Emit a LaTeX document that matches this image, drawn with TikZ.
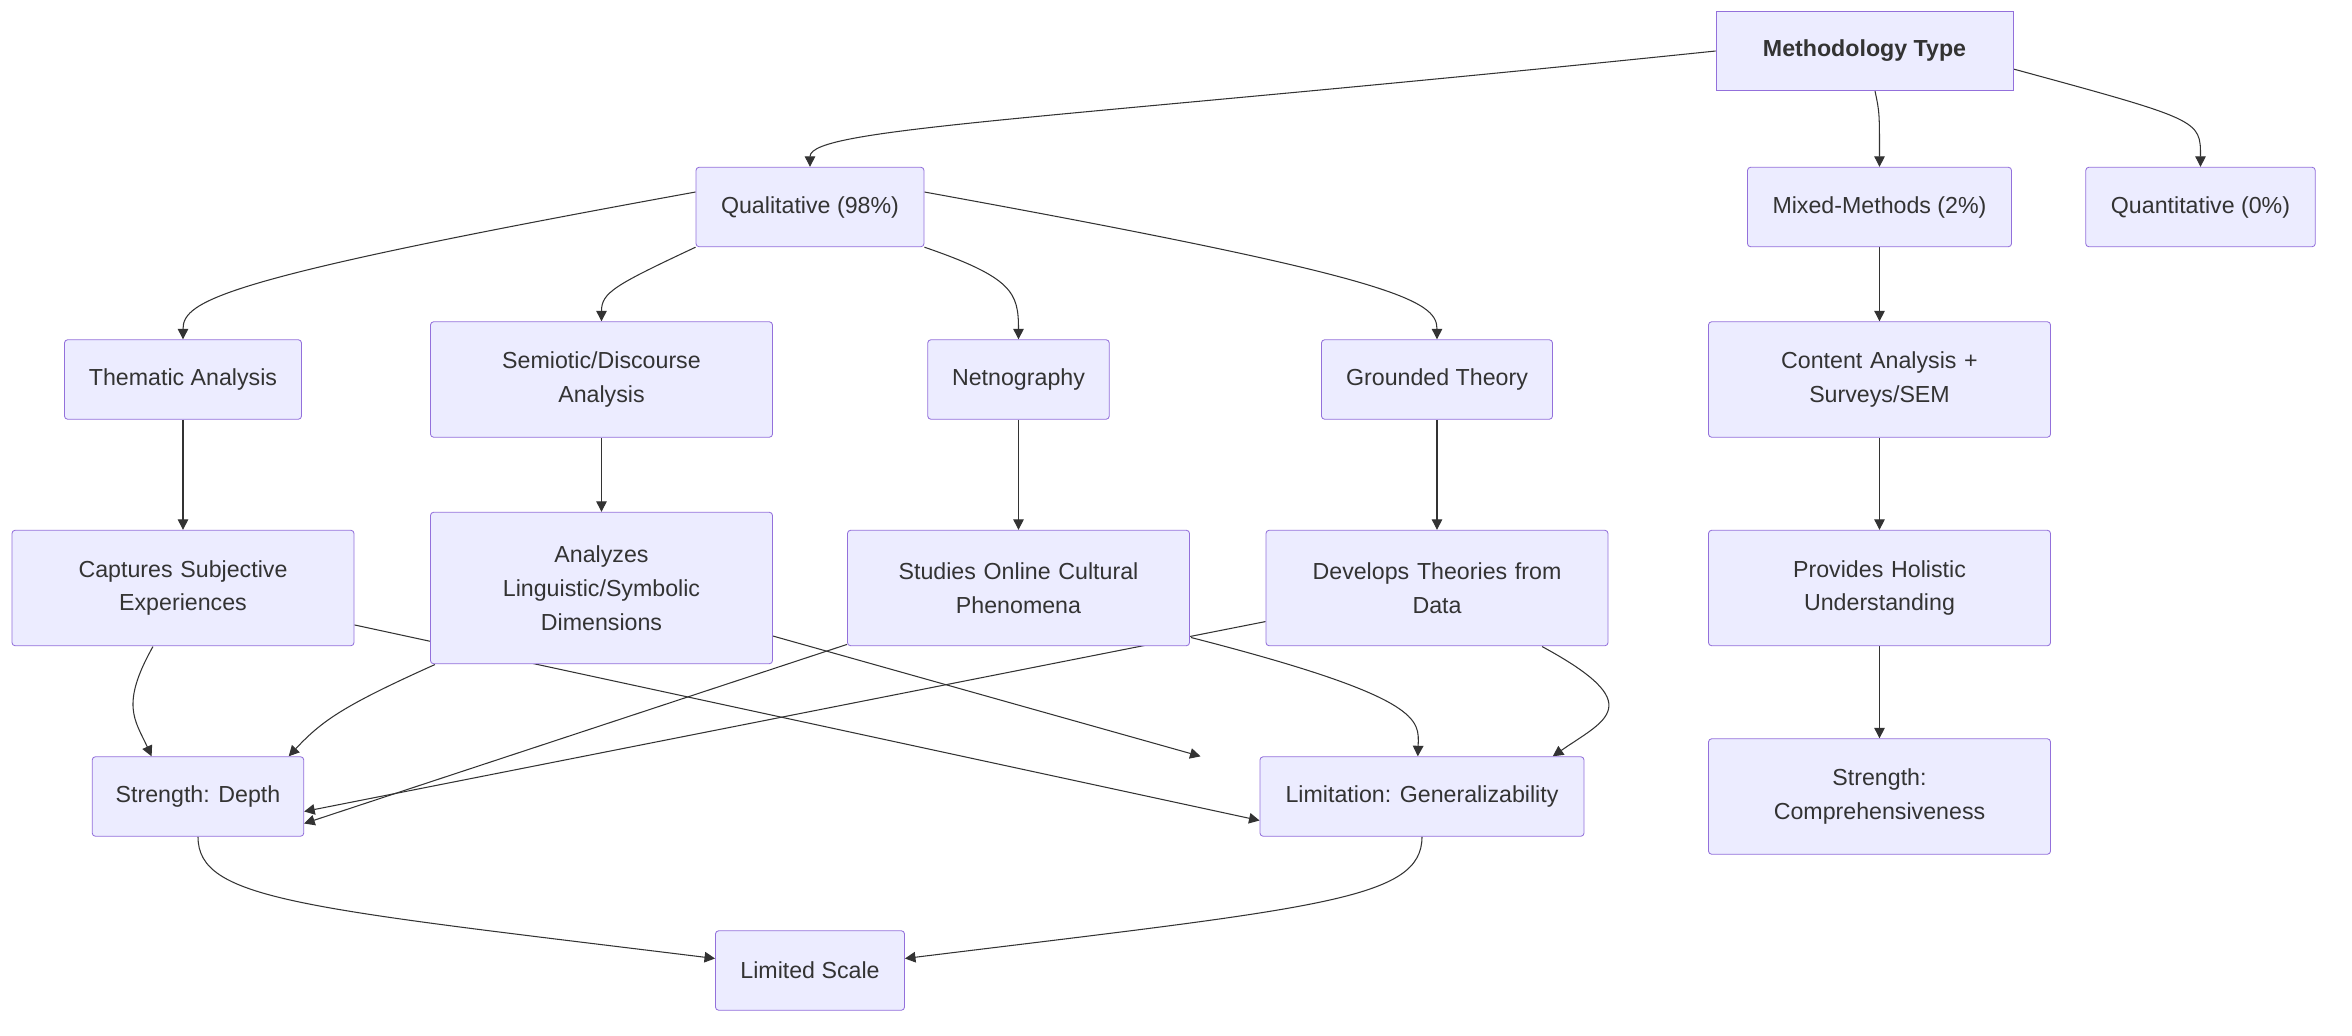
\documentclass[tikz,border=0pt]{standalone}
\usepackage{fontspec}
\setmainfont{Liberation Sans}
\usetikzlibrary{arrows.meta, positioning, backgrounds}
\definecolor{boxfill}{HTML}{ECECFF}
\definecolor{boxline}{HTML}{9370DB}
\definecolor{ink}{HTML}{333333}

\begin{document}
\begin{tikzpicture}[
        x=0.25mm, y=-0.25mm,
        >={Triangle[length=5pt,width=5pt]},
        box/.style={draw=boxline, fill=boxfill, rounded corners=1.5pt, text=ink,
            font=\fontsize{11}{16}\selectfont, align=center, inner sep=0pt,
            minimum height=13.25mm},
        tall/.style={minimum height=19.25mm, minimum width=57mm, text width=52mm},
        e/.style={->, draw=ink, line width=0.5pt}
    ]
        \useasboundingbox (0,0) rectangle (1568,690);

        \node[box, rounded corners=0pt, minimum width=49.5mm, font=\fontsize{11}{16}\selectfont\bfseries] (meth) at (1243,34) {Methodology Type};
        \node[box, minimum width=38mm] (qual) at (540,138) {Qualitative (98\%)};
        \node[box, minimum width=44mm] (mixed) at (1253,138) {Mixed-Methods (2\%)};
        \node[box, minimum width=38.25mm] (quant) at (1467,138) {Quantitative (0\%)};

        \node[box, minimum width=39.5mm] (them) at (122,253) {Thematic Analysis};
        \node[box, tall] (sem) at (401,253) {Semiotic/Discourse\\Analysis};
        \node[box, minimum width=30.25mm] (net) at (679,253) {Netnography};
        \node[box, minimum width=38.5mm] (gro) at (958,253) {Grounded Theory};
        \node[box, tall] (con) at (1253,253) {Content Analysis +\\Surveys/SEM};

        \node[box, tall] (cap) at (122,392) {Captures Subjective\\Experiences};
        \node[box, tall, minimum height=25.25mm] (ana) at (401,392) {Analyzes\\Linguistic/Symbolic\\Dimensions};
        \node[box, tall] (stu) at (679,392) {Studies Online Cultural\\Phenomena};
        \node[box, tall] (dev) at (958,392) {Develops Theories from\\Data};
        \node[box, tall] (pro) at (1253,392) {Provides Holistic\\Understanding};

        \node[box, minimum width=35.25mm] (depth) at (132,531) {Strength: Depth};
        \node[box, minimum width=54mm] (lim) at (948,531) {Limitation: Generalizability};
        \node[box, tall] (comp) at (1253,531) {Strength:\\Comprehensiveness};
        \node[box, minimum width=31.5mm] (scale) at (540,647) {Limited Scale};

        \begin{scope}[on background layer]
            \draw[e] (meth.west) .. controls (700,80) and (540,85) .. (qual.north);
            \draw[e] ([xshift=5]meth.south) .. controls (1253,75) .. (mixed.north);
            \draw[e] ([yshift=-3mm]meth.east) .. controls (1467,80) .. (quant.north);
            \draw[e] ([yshift=2.5mm]qual.west) .. controls (150,185) and (122,200) .. (them.north);
            \draw[e] (qual.south west) .. controls (410,190) and (401,195) .. (sem.north);
            \draw[e] (qual.south east) .. controls (675,185) and (679,195) .. (net.north);
            \draw[e] ([yshift=2.5mm]qual.east) .. controls (930,185) and (958,200) .. (gro.north);
            \draw[e] (mixed) -- (con);
            \draw[e] (them) -- (cap);
            \draw[e] (sem) -- (ana);
            \draw[e] (net) -- (stu);
            \draw[e] (gro) -- (dev);
            \draw[e] (con) -- (pro);
            \draw[e] (pro) -- (comp);
            \draw[e] (102,431) .. controls (80,470) and (90,480) .. ([xshift=-22]depth.north);
            \draw[e] (cap) -- ([yshift=-4mm]lim.west);
            \draw[e] (290,443) .. controls (230,470) and (215,480) .. ([xshift=43]depth.north);
            \draw[e] (ana) -- ([xshift=-105]lim.north);
            \draw[e] (stu) -- ([yshift=-4.5mm]depth.east);
            \draw[e] (794,425) .. controls (950,465) and (946,480) .. ([xshift=-2]lim.north);
            \draw[e] (dev) -- ([yshift=-2.5mm]depth.east);
            \draw[e] (1028,431) .. controls (1100,470) and (1070,480) .. ([xshift=62]lim.north);
            \draw[e] (depth.south) .. controls (132,600) and (200,605) .. ([yshift=2mm]scale.west);
            \draw[e] (lim.south) .. controls (948,600) and (880,605) .. ([yshift=2mm]scale.east);
        \end{scope}
    \end{tikzpicture}
\end{document}
